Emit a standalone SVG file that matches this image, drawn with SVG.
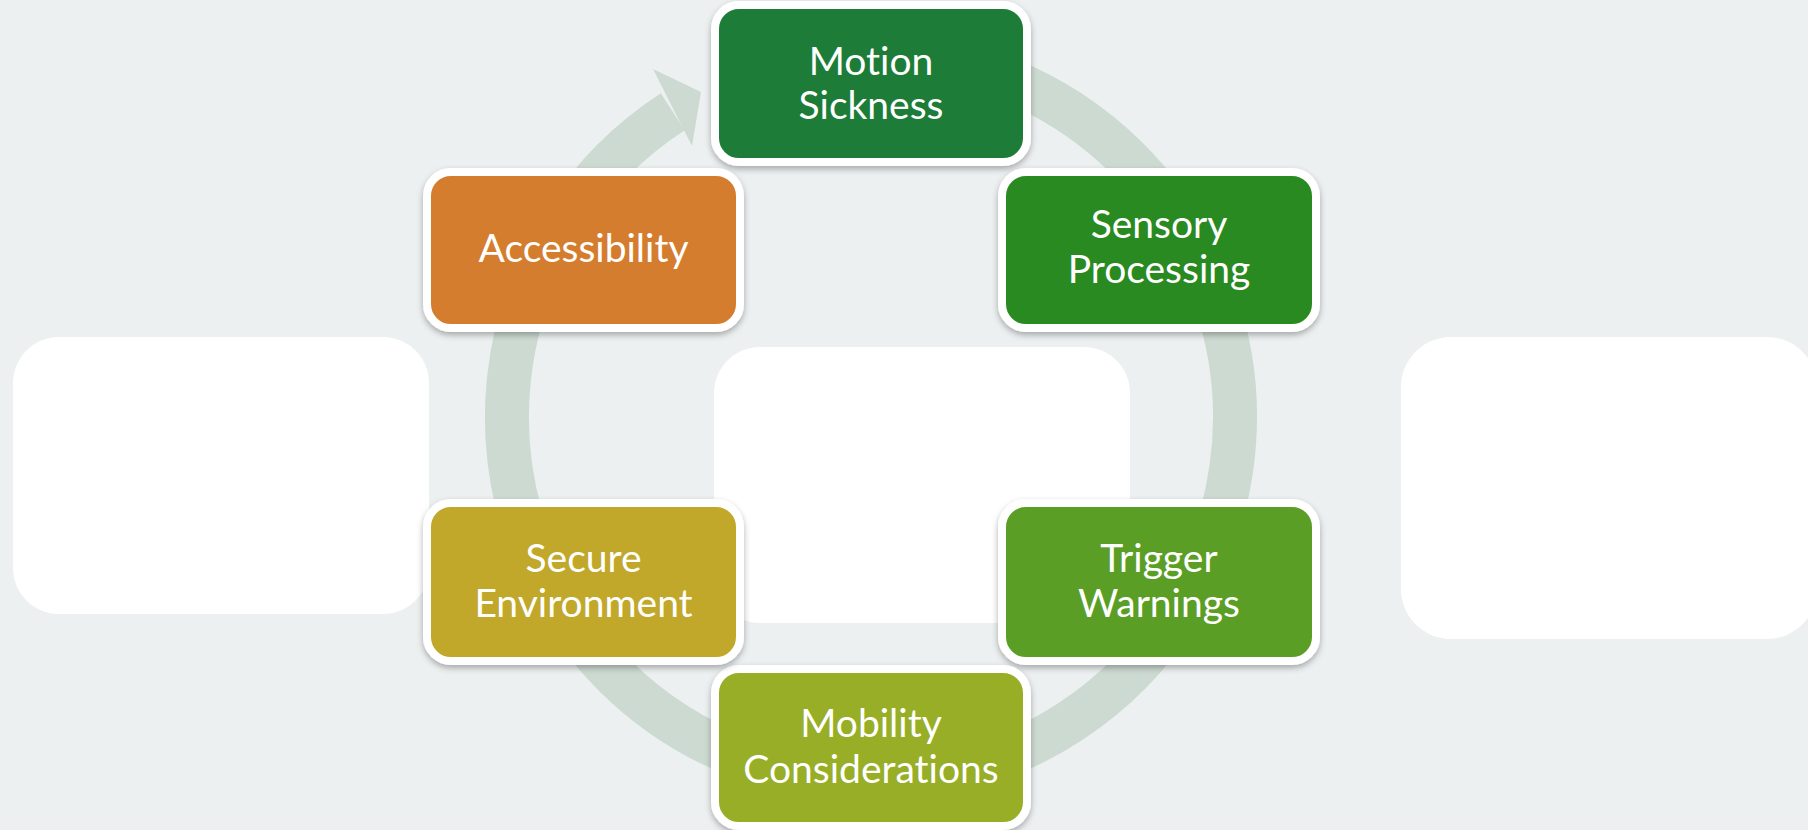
<svg xmlns="http://www.w3.org/2000/svg" width="1808" height="830" viewBox="0 0 1808 830">
  <defs>
    <filter id="shadow" x="-10%" y="-10%" width="120%" height="130%">
      <feDropShadow dx="0" dy="3" stdDeviation="3" flood-color="#000" flood-opacity="0.3"/>
    </filter>
    <style>
      .bg { fill: #ecf0f1; }
      .panel { fill: #ffffff; }
      .ring { fill: none; stroke: #cddad1; stroke-width: 44; }
      .head { fill: #cddad1; }
      .node rect { stroke: #ffffff; stroke-width: 8; filter: url(#shadow); }
      .node text { fill: #ffffff; font-family: Lato, "Open Sans", "Liberation Sans", sans-serif; font-size: 39px; text-anchor: middle; font-variant-ligatures: none; font-feature-settings: "liga" 0; }
    </style>
  </defs>

  <rect class="bg" x="0" y="0" width="1808" height="830"/>

  <!-- blank panels -->
  <g id="panels">
    <rect class="panel" x="13" y="337" width="416" height="277" rx="46"/>
    <rect class="panel" x="714" y="347" width="416" height="276" rx="46"/>
    <rect class="panel" x="1401" y="337" width="416" height="302" rx="50"/>
  </g>

  <!-- cycle arrow -->
  <g id="connectors">
    <path class="ring" d="M995.5 75 A364 364 0 1 1 672.8 111.7"/>
    <polygon class="head" points="653,69 701,92 692,146"/>
  </g>

  <g id="node-motion" class="node">
    <rect x="715" y="5" width="312" height="157" rx="24" fill="#1e7b38"/>
    <text x="871" y="75">Motion</text>
    <text x="871" y="119">Sickness</text>
  </g>

  <g id="node-sensory" class="node">
    <rect x="1002" y="172" width="314" height="156" rx="24" fill="#2b8a22"/>
    <text x="1159" y="238">Sensory</text>
    <text x="1159" y="283">Processing</text>
  </g>

  <g id="node-trigger" class="node">
    <rect x="1002" y="503" width="314" height="158" rx="24" fill="#5a9e26"/>
    <text x="1159" y="572">Trigger</text>
    <text x="1159" y="617">Warnings</text>
  </g>

  <g id="node-mobility" class="node">
    <rect x="715" y="669" width="312" height="157" rx="24" fill="#97ae28"/>
    <text x="871" y="737">Mobility</text>
    <text x="871" y="783">Considerations</text>
  </g>

  <g id="node-secure" class="node">
    <rect x="427" y="503" width="313" height="158" rx="24" fill="#c1a829"/>
    <text x="583.5" y="572">Secure</text>
    <text x="583.5" y="617">Environment</text>
  </g>

  <g id="node-accessibility" class="node">
    <rect x="427" y="172" width="313" height="156" rx="24" fill="#d47d2d"/>
    <text x="583.5" y="262">Accessibility</text>
  </g>
</svg>
